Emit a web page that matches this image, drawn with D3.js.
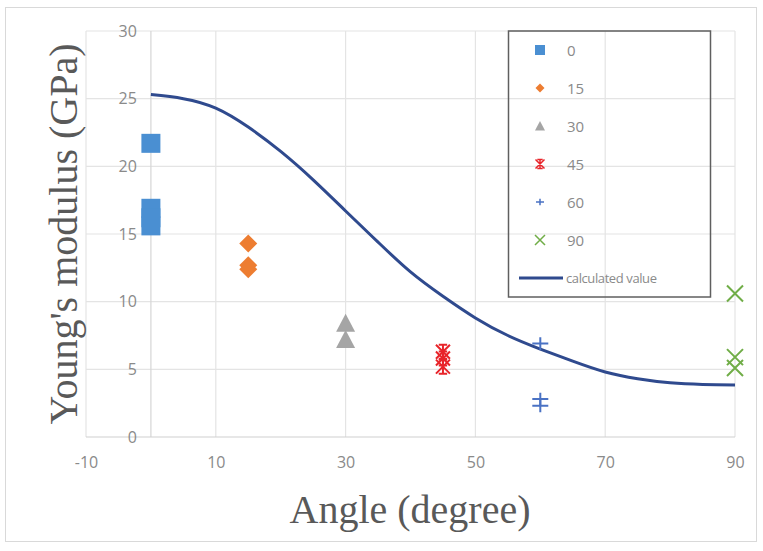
<!DOCTYPE html>
<html><head><meta charset="utf-8">
<script src="https://cdn.jsdelivr.net/npm/d3@7"></script>
<style>body{margin:0;background:#fff;}svg{display:block;}</style>
</head><body>
<svg id="c" width="763" height="551"></svg>
<script>
// ---- data ----
const xTicks = [-10, 10, 30, 50, 70, 90];
const yTicks = [0, 5, 10, 15, 20, 25, 30];
const seriesNames = ["0", "15", "30", "45", "60", "90"];
const seriesAngles = [0, 15, 30, 45, 60, 90];
const values0 = [21.7, 16.9, 16.2, 15.6];
const values15 = [14.3, 12.7, 12.4];
const values30 = [8.4, 7.2];
const values45 = [6.3, 5.8, 5.2];
const values60 = [6.9, 2.8, 2.3];
const values90 = [10.6, 5.9, 5.1];
const curveAngles = [0, 5, 10, 15, 20, 25, 30, 35, 40, 45, 50, 55, 60, 65, 70, 75, 80, 85, 90];
const curveValues = [25.3, 25.0, 24.3, 22.9, 21.1, 19.0, 16.7, 14.4, 12.2, 10.4, 8.8, 7.5, 6.5, 5.6, 4.8, 4.3, 4.0, 3.88, 3.85];
const curveName = "calculated value";

const seriesValues = [values0, values15, values30, values45, values60, values90];
const colors = ["#4a8fd2", "#ed7d31", "#a5a5a5", "#e8242a", "#4a72c4", "#70ad47"];
const shapes = ["square", "diamond", "triangle", "star", "plus", "x"];

const svg = d3.select("#c");
const x = d3.scaleLinear().domain([-10, 90]).range([86, 735]);
const y = d3.scaleLinear().domain([0, 30]).range([437, 31]);

// outer border
svg.append("rect").attr("x", 5.5).attr("y", 7.5).attr("width", 751).attr("height", 534)
  .attr("fill", "#fff").attr("stroke", "#d9d9d9").attr("stroke-width", 1);

// gridlines
const grid = svg.append("g");
grid.selectAll("line.h").data(yTicks.filter(d => d > 0)).join("line")
  .attr("x1", x(-10)).attr("x2", x(90)).attr("y1", d => y(d)).attr("y2", d => y(d))
  .attr("stroke", "#e4e4e4").attr("stroke-width", 1.2);
grid.selectAll("line.v").data(xTicks).join("line")
  .attr("x1", d => x(d)).attr("x2", d => x(d)).attr("y1", y(30)).attr("y2", y(0))
  .attr("stroke", "#e4e4e4").attr("stroke-width", 1.2);

// axes lines (y axis crosses at x=0, x axis at y=0)
svg.append("line").attr("x1", x(0)).attr("x2", x(0)).attr("y1", y(30)).attr("y2", y(0))
  .attr("stroke", "#d6d6d6").attr("stroke-width", 1.2);
svg.append("line").attr("x1", x(-10)).attr("x2", x(90)).attr("y1", y(0)).attr("y2", y(0))
  .attr("stroke", "#d0d0d0").attr("stroke-width", 1.2);

// y tick labels (next to axis at x=0)
const yAxis = d3.axisLeft(y).tickValues(yTicks).tickSize(0).tickPadding(14).tickFormat(d => String(d));
const gy = svg.append("g").attr("transform", `translate(${x(0)},0)`).call(yAxis);
gy.select(".domain").remove();
gy.selectAll("text").attr("font-family", "Open Sans, Liberation Sans, sans-serif")
  .attr("font-size", 16).attr("fill", "#8a8a8a");

// x tick labels
const xAxis = d3.axisBottom(x).tickValues(xTicks).tickSize(0).tickPadding(20).tickFormat(d => String(d));
const gx = svg.append("g").attr("transform", `translate(0,${y(0)})`).call(xAxis);
gx.select(".domain").remove();
gx.selectAll("text").attr("font-family", "Open Sans, Liberation Sans, sans-serif")
  .attr("font-size", 16).attr("fill", "#8a8a8a");

// titles
svg.append("text").attr("x", 410).attr("y", 523).attr("text-anchor", "middle")
  .attr("font-family", "Liberation Serif, Times New Roman, serif").attr("font-size", 40)
  .attr("fill", "#595959").text("Angle (degree)");
svg.append("text").attr("transform", "translate(77,234) rotate(-90)").attr("text-anchor", "middle")
  .attr("font-family", "Liberation Serif, Times New Roman, serif").attr("font-size", 40)
  .attr("fill", "#595959").text("Young's modulus (GPa)");

// curve
const line = d3.line().x((d, i) => x(curveAngles[i])).y(d => y(d)).curve(d3.curveNatural);
svg.append("path").datum(curveValues).attr("d", line).attr("fill", "none")
  .attr("stroke", "#2f4a8e").attr("stroke-width", 3);

// marker drawing
function marker(g, shape, color, s) {
  const h = s / 2;
  if (shape === "square") {
    g.append("rect").attr("x", -h).attr("y", -h).attr("width", s).attr("height", s).attr("fill", color);
  } else if (shape === "diamond") {
    g.append("path").attr("d", `M0,${-h}L${h},0L0,${h}L${-h},0Z`).attr("fill", color);
  } else if (shape === "triangle") {
    g.append("path").attr("d", `M0,${-h}L${h},${h * 0.9}L${-h},${h * 0.9}Z`).attr("fill", color);
  } else if (shape === "star") {
    g.append("path").attr("d",
      `M${-h},${-h}L${h},${h}M${h},${-h}L${-h},${h}M0,${-h}L0,${h}M${-h * 0.6},${-h}L${h * 0.6},${-h}M${-h * 0.6},${h}L${h * 0.6},${h}`)
      .attr("stroke", color).attr("stroke-width", Math.max(1.5, s / 7)).attr("fill", "none");
  } else if (shape === "plus") {
    g.append("path").attr("d", `M${-h},0L${h},0M0,${-h * 0.8}L0,${h * 0.8}`)
      .attr("stroke", color).attr("stroke-width", Math.max(1.5, s / 8)).attr("fill", "none");
  } else if (shape === "x") {
    g.append("path").attr("d", `M${-h},${-h}L${h},${h}M${h},${-h}L${-h},${h}`)
      .attr("stroke", color).attr("stroke-width", Math.max(1.5, s / 8)).attr("fill", "none");
  }
}
const plotSizes = [19, 18, 19, 14, 16, 16];
const legendSizes = [10, 9, 10, 9, 8, 10];

seriesValues.forEach((vals, si) => {
  const g = svg.append("g");
  g.selectAll("g").data(vals).join("g")
    .attr("transform", d => `translate(${x(seriesAngles[si])},${y(d)})`)
    .each(function () { marker(d3.select(this), shapes[si], colors[si], plotSizes[si]); });
});

// legend
const lg = svg.append("g");
lg.append("rect").attr("x", 508.5).attr("y", 31).attr("width", 202).attr("height", 266)
  .attr("fill", "none").attr("stroke", "#5f5f5f").attr("stroke-width", 1.5);
const ly = [50, 88, 126, 164, 202, 240];
seriesNames.forEach((n, i) => {
  const g = lg.append("g").attr("transform", `translate(540,${ly[i]})`);
  marker(g, shapes[i], colors[i], legendSizes[i]);
  lg.append("text").attr("x", 567).attr("y", ly[i] + 5.5).attr("font-family", "Open Sans, Liberation Sans, sans-serif")
    .attr("font-size", 15).attr("fill", "#8a8a8a").text(n);
});
lg.append("line").attr("x1", 519).attr("x2", 563).attr("y1", 278).attr("y2", 278)
  .attr("stroke", "#2f4a8e").attr("stroke-width", 3);
lg.append("text").attr("x", 566).attr("y", 283).attr("font-family", "Open Sans, Liberation Sans, sans-serif")
  .attr("font-size", 13).attr("letter-spacing", -0.4).attr("fill", "#8a8a8a").text(curveName);
</script>
</body></html>
